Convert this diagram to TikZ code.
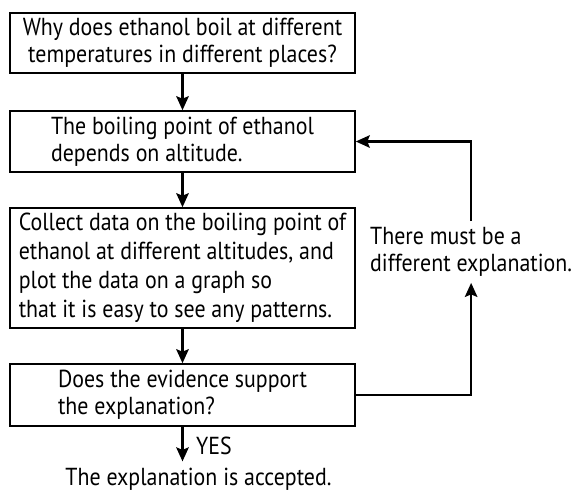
\documentclass[tikz,border=0pt]{standalone}
\usepackage{fontspec}
\setmainfont[FakeStretch=0.89]{PT Sans}
\usetikzlibrary{arrows.meta}
\tikzset{
  stepbox/.style={draw,line width=0.9pt,minimum width=6.9cm,inner sep=0pt},
  flow/.style={line width=1.3pt,-{Stealth[length=0.28cm,width=0.25cm,inset=0.05cm]}}
}
\begin{document}
\begin{tikzpicture}[font=\fontsize{14}{15.5}\selectfont]
\useasboundingbox (0,0) rectangle (11.46,9.86);
\node[stepbox,minimum height=1.2cm,align=center] (q1) at (3.65,9.0) {Why does ethanol boil at different\\temperatures in different places?};
\node[stepbox,minimum height=1.22cm,align=left] (q2) at (3.65,7.03) {The boiling point of ethanol\\depends on altitude.};
\node[stepbox,minimum height=2.4cm,align=left,font=\fontsize{14}{16.6}\selectfont] (q3) at (3.65,4.5) {Collect data on the boiling point of\\ethanol at different altitudes, and\\plot the data on a graph so\\that it is easy to see any patterns.};
\node[stepbox,minimum height=1.24cm,align=left] (q4) at (3.65,1.96) {Does the evidence support\\the explanation?};
\node[anchor=base] (acc) at (3.97,0.16) {The explanation is accepted.};
\node[anchor=base west] (yes) at (3.8,0.78) {YES};
\node[anchor=west,align=left] (alt) at (7.28,4.82) {There must be a\\different explanation.};
\draw[flow] (q1) -- (q2);
\draw[flow] (q2) -- (q3);
\draw[flow] (q3) -- (q4);
\draw[flow] (q4) -- (q4 |- acc.north);
\draw[flow] (q4.east) -| (alt.south);
\draw[flow] (alt.north) |- (q2.east);
\end{tikzpicture}
\end{document}
